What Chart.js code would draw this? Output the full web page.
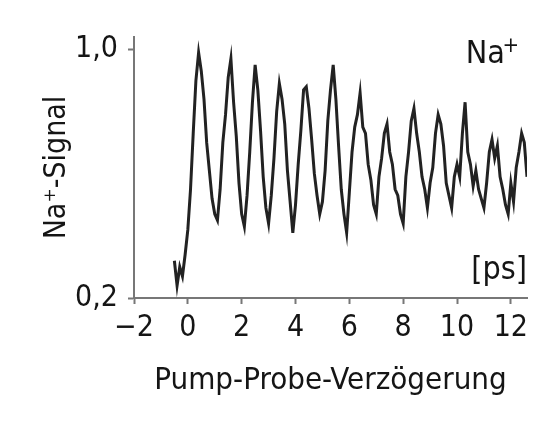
<!DOCTYPE html>
<html lang="de">
<head>
<meta charset="UTF-8">
<title>Na+ Signal</title>
<script src="https://cdn.jsdelivr.net/npm/chart.js"></script>
<style>
  html, body { margin: 0; padding: 0; background: #fff; }
  #wrap { width: 560px; height: 425px; }
</style>
</head>
<body>
<div id="wrap"><canvas id="signalChart"></canvas></div>
<script>
// pump-probe delay in ps
const delays = [
  -0.5, -0.4, -0.3, -0.2, -0.1,
  0.0, 0.1, 0.2, 0.3, 0.4, 0.5, 0.6, 0.7, 0.8, 0.9,
  1.0, 1.1, 1.2, 1.3, 1.4, 1.5, 1.6, 1.7, 1.8, 1.9,
  2.0, 2.1, 2.2, 2.3, 2.4, 2.5, 2.6, 2.7, 2.8, 2.9,
  3.0, 3.1, 3.2, 3.3, 3.4, 3.5, 3.6, 3.7, 3.8, 3.9,
  4.0, 4.1, 4.2, 4.3, 4.4, 4.5, 4.6, 4.7, 4.8, 4.9,
  5.0, 5.1, 5.2, 5.3, 5.4, 5.5, 5.6, 5.7, 5.8, 5.9,
  6.0, 6.1, 6.2, 6.3, 6.4, 6.5, 6.6, 6.7, 6.8, 6.9,
  7.0, 7.1, 7.2, 7.3, 7.4, 7.5, 7.6, 7.7, 7.8, 7.9,
  8.0, 8.1, 8.2, 8.3, 8.4, 8.5, 8.6, 8.7, 8.8, 8.9,
  9.0, 9.1, 9.2, 9.3, 9.4, 9.5, 9.6, 9.7, 9.8, 9.9,
  10.0, 10.1, 10.2, 10.3, 10.4, 10.5, 10.6, 10.7, 10.8, 10.9,
  11.0, 11.1, 11.2, 11.3, 11.4, 11.5, 11.6, 11.7, 11.8, 11.9,
  12.0, 12.1, 12.2, 12.3, 12.4, 12.5, 12.6
];

// Na+ signal
const signal = [
  0.32, 0.24, 0.30, 0.27, 0.34,
  0.42, 0.55, 0.73, 0.90, 0.99, 0.93, 0.84, 0.70, 0.61, 0.52,
  0.47, 0.45, 0.55, 0.70, 0.79, 0.91, 0.97, 0.83, 0.72, 0.57,
  0.47, 0.43, 0.53, 0.67, 0.83, 0.95, 0.87, 0.74, 0.59, 0.49,
  0.44, 0.53, 0.65, 0.80, 0.89, 0.84, 0.76, 0.61, 0.51, 0.41,
  0.50, 0.63, 0.74, 0.87, 0.88, 0.81, 0.71, 0.60, 0.53, 0.47,
  0.51, 0.61, 0.77, 0.87, 0.95, 0.84, 0.69, 0.55, 0.47, 0.41,
  0.54, 0.67, 0.75, 0.79, 0.86, 0.75, 0.73, 0.63, 0.58, 0.50,
  0.47, 0.59, 0.65, 0.73, 0.76, 0.67, 0.63, 0.55, 0.53, 0.47,
  0.44, 0.59, 0.67, 0.77, 0.81, 0.73, 0.67, 0.59, 0.55, 0.49,
  0.57, 0.62, 0.73, 0.79, 0.76, 0.69, 0.57, 0.53, 0.49, 0.59,
  0.63, 0.59, 0.73, 0.83, 0.67, 0.63, 0.56, 0.61, 0.55, 0.52,
  0.49, 0.57, 0.67, 0.71, 0.65, 0.69, 0.59, 0.55, 0.50, 0.47,
  0.57, 0.51, 0.62, 0.67, 0.73, 0.70, 0.59
];

const xTicks = [-2, 0, 2, 4, 6, 8, 10, 12];
const yTicks = [0.2, 1.0];

const FONT = '"DejaVu Sans Condensed", "DejaVu Sans", sans-serif';
const INK = '#151515';
const AXIS = '#777';

// "Na+" and "[ps]" inside the plot
const cornerLabels = {
  id: 'cornerLabels',
  afterDraw(chart) {
    const { ctx, chartArea } = chart;
    const r = chartArea.right;
    ctx.save();
    ctx.fillStyle = INK;
    ctx.textBaseline = 'alphabetic';
    ctx.textAlign = 'right';
    ctx.font = '22px ' + FONT;
    ctx.fillText('+', r - 8, 52);
    ctx.font = '32px ' + FONT;
    ctx.fillText('Na', r - 22, 63);
    ctx.fillText('[ps]', r, 279);
    ctx.restore();
  }
};

const ctx = document.getElementById('signalChart').getContext('2d');
new Chart(ctx, {
  type: 'line',
  data: {
    datasets: [{
      data: delays.map((t, i) => ({ x: t, y: signal[i] })),
      borderColor: '#222',
      borderWidth: 3,
      pointRadius: 0,
      tension: 0,
      fill: false
    }]
  },
  options: {
    responsive: true,
    maintainAspectRatio: false,
    animation: false,
    layout: { padding: { left: 0, top: 37, right: 33, bottom: 0 } },
    plugins: {
      legend: { display: false },
      tooltip: { enabled: false }
    },
    scales: {
      x: {
        type: 'linear',
        min: -2,
        max: 12.6,
        afterBuildTicks: s => { s.ticks = xTicks.map(v => ({ value: v })); },
        afterFit: s => { s.height = 127; },
        ticks: {
          autoSkip: false,
          maxRotation: 0,
          padding: 6,
          color: INK,
          font: { family: FONT, size: 30 },
          callback: v => (v < 0 ? '\u2212' + Math.abs(v) : String(v))
        },
        grid: { drawOnChartArea: false, tickLength: 6, tickColor: AXIS, tickWidth: 2 },
        border: { color: AXIS, width: 2 },
        title: {
          display: true,
          text: 'Pump-Probe-Verzögerung',
          color: INK,
          font: { family: FONT, size: 31 },
          padding: { top: 0, bottom: 25 }
        }
      },
      y: {
        min: 0.2,
        max: 1.04,
        afterBuildTicks: s => { s.ticks = yTicks.map(v => ({ value: v })); },
        afterFit: s => { s.width = 134; },
        ticks: {
          padding: 10,
          color: INK,
          font: { family: FONT, size: 30 },
          callback: v => v.toFixed(1).replace('.', ',')
        },
        grid: { drawOnChartArea: false, tickLength: 6, tickColor: AXIS, tickWidth: 2 },
        border: { color: AXIS, width: 2 },
        title: {
          display: true,
          text: 'Na\u207A-Signal',
          color: INK,
          font: { family: FONT, size: 30 },
          padding: { top: 39, bottom: 0 }
        }
      }
    }
  },
  plugins: [cornerLabels]
});
</script>
</body>
</html>
